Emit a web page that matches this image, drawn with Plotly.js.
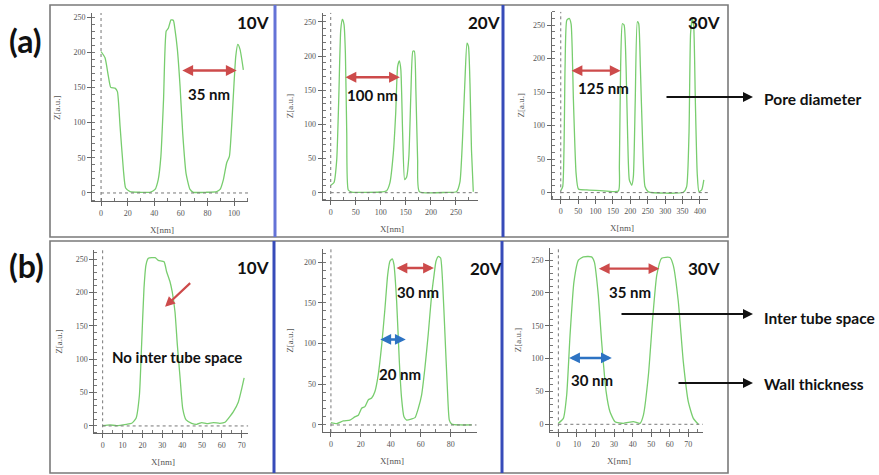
<!DOCTYPE html>
<html><head><meta charset="utf-8">
<script src="https://cdn.plot.ly/plotly-3.0.1.min.js"></script>
<style>html,body{margin:0;padding:0;background:#fff}#chart{width:879px;height:475px}</style>
</head><body><div id="chart"></div>
<script>
// ---- data ----
const panelLabels = ["10V", "20V", "30V", "10V", "20V", "30V"];
const a10x = [0,3,5.5,7.3,10.5,12.3,14.3,16.8,18.5,21.8,29.3,36.8,40.6,43,45,47,49,50.6,52.6,54.4,55.6,57.4,59.4,61.4,63.9,66.9,69.4,79.4,87,89.5,92,94.5,96.5,98.2,100,101.3,102.8,104.5,107];
const a10z = [201,192,166,150,149,144,95,33,7,2,1,1,5,19,52,133,230,234,246,245,232,204,152,85,28,5,1,1,2,5,19,43,52,95,156,194,211,204,175];
const a20x = [0,6.6,12,16,20,23.3,26.6,29.3,32,35,42,98,111.7,118,125,129.7,133.6,137,140,143.6,147.6,151.6,156,160,164,167,170,173.5,177,231,251,258,263,268,272,275,278,281,284.6];
const a20z = [11,15,48,136,238,254,246,204,87,4,1,1,3,14,58,116,185,193,180,87,19,23,53,145,207,207,150,48,1.5,0.5,1.5,16,77,165,219,214,160,62,1.5];
const a30x = [0,5.7,12.4,17.2,24,29.7,36.4,44,50.7,74.6,113,165.6,168.4,172,177,182,187.6,192,197,204,208.6,214,220,224,228.7,235,242,251.7,352,361.7,368.4,373,378,382,386.6,392,397,405,411];
const a30z = [3,9,188,257,260,252,138,29,5.5,4,3,2.5,39,188,252,250,188,88,19,11,24,138,255,252,188,78,9,1,0.5,9,88,238,260,248,138,29,1.5,4,19];
const b10x = [0,3.7,7,12,14.6,16.8,18.5,19.6,20.8,21.8,23,26.4,28,30.9,32.2,33.9,35,36.4,37.6,39,40.3,42,44.8,47.3,49.9,52.4,55.7,59,61.6,63.3,65.8,68.3,70,71.2];
const b10z = [0.5,1.5,0.5,2.5,4,11.5,46,121,206,241,251,252,248,246,231,216,201,171,121,71,26,9,4,2.5,5,3.5,5,4,5.5,11.5,21.5,36,56,72];
const b20x = [0,3.8,8.2,12.7,16,18.3,20.5,22.7,25,27.2,29.4,31.6,33.9,36.1,37.9,39.4,41,42.1,43.9,45.7,47.2,48.8,50.6,53.9,56.2,58.4,60.6,62.8,65,67.3,68.9,70.2,71.8,73.3,74.7,76.2,77.8,79.1,80.7,86.2,94];
const b20z = [3,1.6,5,6,10,12,20.5,22.5,31,33,41,61.5,98,143,184,201,204,197,152,78,33,10,6,7.4,9,20.5,37,70,111,160,184,201,207,205,172,111,45,6,1,0,0];
const b30x = [0,2.7,4.5,6.3,8.4,10.8,13.5,17.9,19.4,21.5,23.3,25.7,27.8,30.5,35,40.4,44,45.8,48.5,50.8,53,55.6,60.1,61.9,64.6,67.3,70,72.7,75.4];
const b30z = [1.5,9,45,136,217,250,255,255,247,197,126,50,19,4,1.5,4,1.5,14,75,161,227,253,254,242,187,95,34,9,0];
// measurement arrows [x0, x1, z] in data units and their labels
const measA = [[60,102,174],[26.5,138,169],[26.7,172,182]];
const measALabels = ["35 nm","100 nm","125 nm"];
const measBRed = [[42.8,68.8,192.6],[21,54.4,237]];
const measBRedLabels = ["30 nm","35 nm"];
const measBBlue = [[32,50,105],[5,28.8,101]];
const measBBlueLabels = ["20 nm","30 nm"];

const W = 879, H = 475;
const fx = p => p / W, fy = p => 1 - p / H;

// panel geometry (pixels) + axis setup
const panels = [
  {xs:[a10x,a10z], px:[92,248], py:[13,201], xr:[-6.8,110.5], yr:[-11.4,255.7], xd:20, xm:10, yd:50, ym:10, ytx:57},
  {xs:[a20x,a20z], px:[322.7,478], py:[12.7,200], xr:[-16,294], yr:[-10.7,263.5], xd:50, xm:25, yd:50, ym:10, ytx:290},
  {xs:[a30x,a30z], px:[551.7,708], py:[11.7,199.3], xr:[-26,423], yr:[-10,270], xd:50, xm:25, yd:50, ym:10, ytx:520},
  {xs:[b10x,b10z], px:[94.3,248.3], py:[250,433.3], xr:[-4.2,73.3], yr:[-11,263.5], xd:10, xm:5, yd:50, ym:10, ytx:59},
  {xs:[b20x,b20z], px:[322.7,476.7], py:[249,432.3], xr:[-5.5,97.4], yr:[-9,216], xd:20, xm:10, yd:50, ym:10, ytx:290},
  {xs:[b30x,b30z], px:[550,703], py:[248.3,432.3], xr:[-4.5,77.9], yr:[-12.2,268], xd:10, xm:5, yd:50, ym:10, ytx:518}
];

const tickFont = {family:"Liberation Serif, serif", size:8, color:"#555"};
const traces = [];
const layout = {
  width: W, height: H, margin:{l:0,r:0,t:0,b:0},
  paper_bgcolor:"#fff", plot_bgcolor:"rgba(0,0,0,0)", showlegend:false,
  shapes: [], annotations: []
};

panels.forEach((p, i) => {
  const n = i === 0 ? "" : String(i + 1);
  const xa = "x" + n, ya = "y" + n;
  traces.push({x:p.xs[0], y:p.xs[1], xaxis:xa, yaxis:ya, type:"scatter", mode:"lines",
    line:{color:"rgb(120,205,110)", width:1.3, shape:"spline", smoothing:0.5}, hoverinfo:"skip"});
  const common = {showgrid:false, zeroline:false, showline:true, linecolor:"#666", linewidth:1,
    ticks:"outside", ticklen:4, tickcolor:"#666", tickfont:tickFont, fixedrange:true};
  layout["xaxis"+n] = Object.assign({}, common, {domain:[fx(p.px[0]), fx(p.px[1])], range:p.xr,
    anchor:ya, dtick:p.xd, tick0:0, minor:{dtick:p.xm, ticks:"inside", ticklen:3, tickcolor:"#777"}});
  layout["yaxis"+n] = Object.assign({}, common, {domain:[fy(p.py[1]), fy(p.py[0])], range:p.yr,
    anchor:xa, dtick:p.yd, tick0:0, minor:{dtick:p.ym, ticks:"inside", ticklen:3, tickcolor:"#777"}});
  // dotted zero lines
  layout.shapes.push({type:"line", xref:xa, yref:ya, x0:0, x1:0, y0:p.yr[0], y1:p.yr[1],
    line:{color:"#777", width:1, dash:"dot"}});
  layout.shapes.push({type:"line", xref:xa, yref:ya, x0:0, x1:p.xr[1], y0:0, y1:0,
    line:{color:"#777", width:1, dash:"dot"}});
  // axis titles
  layout.annotations.push({xref:"paper", yref:"paper", x:fx((p.px[0]+p.px[1])/2 - 8), y:fy(p.py[1] + 29),
    text:"X[nm]", showarrow:false, font:{family:"Liberation Serif, serif", size:9, color:"#555"}, xanchor:"center", yanchor:"middle"});
  layout.annotations.push({xref:"paper", yref:"paper", x:fx(p.ytx), y:fy((p.py[0]+p.py[1])/2),
    text:"Z[a.u.]", textangle:-90, showarrow:false, font:{family:"Liberation Serif, serif", size:9, color:"#555"}, xanchor:"center", yanchor:"middle"});
  // voltage label
  const vx = [253,484,704,253,486,704][i], vy = [23,23,23,267,268,268][i];
  layout.annotations.push({xref:"paper", yref:"paper", x:fx(vx), y:fy(vy), text:"<b>"+panelLabels[i]+"</b>",
    showarrow:false, font:{family:"Lato, sans-serif", size:17, color:"#111"}, xanchor:"center", yanchor:"middle"});
});

// frames and separators
const frameLine = {color:"#7a7a7a", width:1.6};
layout.shapes.push({type:"rect", xref:"paper", yref:"paper", x0:fx(50), x1:fx(728), y0:fy(237), y1:fy(5), line:frameLine});
layout.shapes.push({type:"rect", xref:"paper", yref:"paper", x0:fx(50), x1:fx(728), y0:fy(473), y1:fy(241), line:frameLine});
[[275,5,237,"rgb(100,115,215)"],[503,5,237,"rgb(55,75,185)"],[274,241,473,"rgb(55,75,185)"],[502,241,473,"rgb(55,75,185)"]].forEach(s=>{
  layout.shapes.push({type:"line", xref:"paper", yref:"paper", x0:fx(s[0]), x1:fx(s[0]), y0:fy(s[1]), y1:fy(s[2]), line:{color:s[3], width:3}});
});

const red = "rgb(205,75,75)", blue = "rgb(45,115,195)";
const bold = (t, s) => ({text:"<b>"+t+"</b>", font:{family:"Lato, sans-serif", size:s, color:"#111"}});
function dbl(xa, ya, m, col) {
  layout.annotations.push({xref:xa, yref:ya, axref:xa, ayref:ya, x:m[1], y:m[2], ax:m[0], ay:m[2],
    showarrow:true, arrowside:"end+start", arrowhead:2, arrowsize:0.9, arrowwidth:2.4, arrowcolor:col, text:""});
}
// (a) row measurement arrows
const aAx = [["x","y"],["x2","y2"],["x3","y3"]];
measA.forEach((m,i)=>dbl(aAx[i][0], aAx[i][1], m, red));
[[209,94],[372,95],[603,88]].forEach((c,i)=>{
  layout.annotations.push(Object.assign({xref:"paper", yref:"paper", x:fx(c[0]), y:fy(c[1]), showarrow:false, xanchor:"center", yanchor:"middle"}, bold(measALabels[i],15)));
});
// (b) row
dbl("x5","y5", measBRed[0], red); dbl("x6","y6", measBRed[1], red);
dbl("x5","y5", measBBlue[0], blue); dbl("x6","y6", measBBlue[1], blue);
[[418,292,measBRedLabels[0]],[630,292,measBRedLabels[1]],[400,374,measBBlueLabels[0]],[592,380,measBBlueLabels[1]]].forEach(c=>{
  layout.annotations.push(Object.assign({xref:"paper", yref:"paper", x:fx(c[0]), y:fy(c[1]), showarrow:false, xanchor:"center", yanchor:"middle"}, bold(c[2],15)));
});
// red pointer in (b) 10V
layout.annotations.push({xref:"x4", yref:"y4", axref:"x4", ayref:"y4", x:31.4, y:178.6, ax:44.8, ay:216,
  showarrow:true, arrowhead:2, arrowsize:0.9, arrowwidth:2.2, arrowcolor:red, text:""});
layout.annotations.push(Object.assign({xref:"paper", yref:"paper", x:fx(177), y:fy(357), showarrow:false, xanchor:"center", yanchor:"middle"}, bold("No inter tube space",15)));

// panel letters
layout.annotations.push(Object.assign({xref:"paper", yref:"paper", x:fx(25), y:fy(40), showarrow:false, xanchor:"center", yanchor:"middle"}, bold("(a)",32)));
layout.annotations.push(Object.assign({xref:"paper", yref:"paper", x:fx(26), y:fy(265), showarrow:false, xanchor:"center", yanchor:"middle"}, bold("(b)",32)));

// black pointer arrows with labels
[[665,97,"Pore diameter",99],[620,314,"Inter tube space",318],[677,383,"Wall thickness",384]].forEach(a=>{
  layout.annotations.push({xref:"paper", yref:"paper", x:fx(753), y:fy(a[1]), ax:a[0]-753, ay:0,
    showarrow:true, arrowhead:2, arrowsize:1, arrowwidth:2, arrowcolor:"#111", text:""});
  layout.annotations.push(Object.assign({xref:"paper", yref:"paper", x:fx(762), y:fy(a[3]), showarrow:false, xanchor:"left", yanchor:"middle"}, bold(a[2],15.5)));
});

Plotly.newPlot("chart", traces, layout, {displayModeBar:false, staticPlot:true});
</script>
</body></html>
